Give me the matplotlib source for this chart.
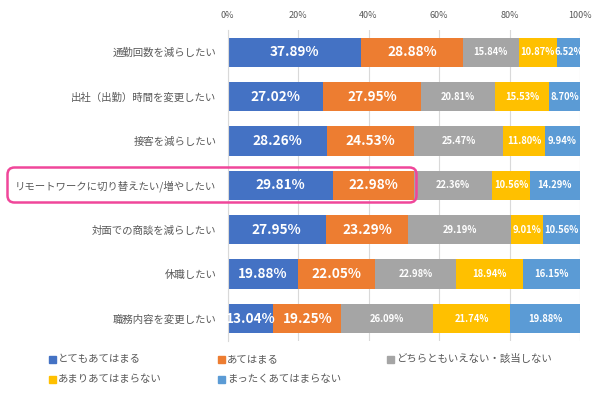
import numpy as np
import matplotlib.pyplot as plt
from matplotlib.patches import FancyBboxPatch, Rectangle

plt.rcParams['font.family'] = ['Noto Sans CJK JP', 'DejaVu Sans']

# rows, top to bottom
categories = [
    '通勤回数を減らしたい',
    '出社（出勤）時間を変更したい',
    '接客を減らしたい',
    'リモートワークに切り替えたい/増やしたい',
    '対面での商談を減らしたい',
    '休職したい',
    '職務内容を変更したい',
]
series_names = ['とてもあてはまる', 'あてはまる', 'どちらともいえない・該当しない',
                'あまりあてはまらない', 'まったくあてはまらない']
very = [37.89, 27.02, 28.26, 29.81, 27.95, 19.88, 13.04]
applies = [28.88, 27.95, 24.53, 22.98, 23.29, 22.05, 19.25]
neither = [15.84, 20.81, 25.47, 22.36, 29.19, 22.98, 26.09]
not_much = [10.87, 15.53, 11.80, 10.56, 9.01, 18.94, 21.74]
not_at_all = [6.52, 8.70, 9.94, 14.29, 10.56, 16.15, 19.88]
colors = ['#4472C4', '#ED7D31', '#A5A5A5', '#FFC000', '#5B9BD5']

values = [very, applies, neither, not_much, not_at_all]
txt = '#595959'

fig = plt.figure(figsize=(6, 3.95), dpi=100)
ax = fig.add_axes([227.5 / 600, 1 - 340.7 / 395, (580 - 227.5) / 600, (340.7 - 30) / 395])

y = np.arange(len(categories))
left = np.zeros(len(categories))
for i, vals in enumerate(values):
    vals = np.array(vals)
    ax.barh(y, vals, left=left, height=0.66, color=colors[i], zorder=2)
    for yy, l, v in zip(y, left, vals):
        if i < 2:
            ax.text(l + v / 2, yy, f'{v:.2f}%', ha='center', va='center',
                    color='white', fontsize=9.8, fontweight='bold', zorder=3)
        else:
            ax.text(l + v / 2, yy, f'{v:.2f}%', ha='center', va='center',
                    color='white', fontsize=6.8, fontweight='bold', zorder=3)
    left += vals

ax.set_xlim(0, 100)
ax.set_ylim(len(categories) - 0.5, -0.5)
ax.set_xticks(range(0, 101, 20))
ax.set_xticklabels([f'{t}%' for t in range(0, 101, 20)])
ax.xaxis.tick_top()
ax.tick_params(axis='x', length=0, pad=7, labelsize=6.5, labelcolor=txt)
ax.set_yticks(y)
ax.set_yticklabels(categories)
ax.tick_params(axis='y', length=0, pad=8, labelsize=7.5, labelcolor=txt)
ax.grid(axis='x', color='#D9D9D9', linewidth=0.8, zorder=0)
for s in ['top', 'right', 'bottom']:
    ax.spines[s].set_visible(False)
ax.spines['left'].set_color('#D9D9D9')

# legend laid out like the original (3 columns, filled row-wise)
leg_x = [52.7, 221.7, 390.7]
leg_y = [359, 379]
for k, name in enumerate(series_names):
    cx = leg_x[k % 3]
    cy = leg_y[k // 3]
    fig.add_artist(Rectangle(((cx - 3.5) / 600, 1 - (cy + 3.5) / 395), 7 / 600, 7 / 395,
                             transform=fig.transFigure, color=colors[k]))
    fig.text((cx + 5.5) / 600, 1 - cy / 395, name, ha='left', va='center',
             fontsize=7.5, color=txt)

# pink highlight box around the remote-work row
box = FancyBboxPatch((0.075, (395 - 202.5) / 100), 4.09, 0.35,
                     boxstyle='round,pad=0,rounding_size=0.07',
                     transform=fig.dpi_scale_trans, fill=False,
                     edgecolor='#F0469A', linewidth=1.8, zorder=10)
fig.add_artist(box)

plt.savefig('out.png', dpi=100)
